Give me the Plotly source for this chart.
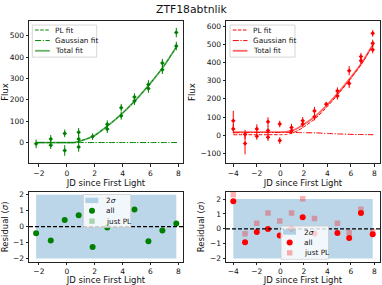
import plotly.graph_objects as go

# ---------------- data ----------------
# top-left (green) photometry
g_x = [-2.2, -1.15, -1.15, -0.15, -0.15, 0.85, 0.85, 0.85, 1.85, 2.9, 2.9, 3.9, 3.9,
       4.85, 4.85, 5.85, 5.85, 6.85, 6.85, 7.85, 7.85]
g_flux = [-6, 17, -12, 43, -37, 48, 17, -21, 28, 86, 63, 163, 125,
          213, 194, 272, 253, 372, 341, 515, 452]
g_err = [20, 18, 18, 18, 25, 20, 18, 22, 15, 18, 18, 18, 18,
         18, 18, 20, 20, 20, 20, 22, 20]
# green fits
g_fit_x = [-2.2, -1, 0, 0.5, 1, 1.5, 2, 3, 4, 5, 6, 7, 7.9]
g_total = [0, 0, 0, 0, 8, 19, 33, 82, 138, 203, 278, 362, 452]
g_pl = [0, 0, 0, 0, 8, 19, 33, 82, 138, 203, 278, 362, 452]
g_gauss = [0, 0, 0, 0, 0, 0, 0, 0, 0, 0, 0, 0, 0]

# top-right (red) photometry
r_x = [-4.0, -4.0, -3.0, -3.0, -2.0, -2.0, -1.05, -1.05, -1.05, -0.05, -0.05, 0.95, 0.95,
       1.9, 1.9, 2.9, 2.9, 3.9, 4.85, 4.85, 5.85, 5.85, 6.85, 6.85, 7.85, 7.85, 7.85]
r_flux = [80, 35, 5, -45, 35, -5, 74, 26, -11, 62, -29, 43, 25,
          80, 62, 134, 102, 171, 243, 216, 355, 285, 433, 410, 560, 505, 470]
r_err = [55, 25, 25, 60, 25, 20, 25, 25, 20, 18, 18, 20, 18,
         20, 20, 22, 20, 12, 20, 20, 25, 25, 20, 20, 18, 20, 20]
# red fits
r_fit_x = [-4.0, -3, -2, -1, 0, 0.5, 1, 1.5, 2, 3, 4, 5, 6, 7, 7.9]
r_total = [17, 17, 17, 17, 17, 18, 26, 40, 60, 106, 168, 240, 318, 405, 502]
r_pl = [3, 3, 3, 3, 3, 4, 12, 26, 46, 93, 158, 233, 313, 401, 499]
r_gauss = [14, 14, 15, 15, 15, 16, 15, 15, 14, 13, 10, 7, 5, 4, 3]

# residuals
gres_x = [-2.2, -1.15, -0.15, 0.85, 1.85, 2.9, 4.85, 5.85, 6.85, 7.85]
gres_all = [-0.42, -0.87, 0.42, 0.72, -1.28, -0.05, 1.08, -0.92, -0.24, 0.2]
rres_x = [-4.0, -3.0, -2.0, -1.05, -0.05, 0.95, 1.9, 2.9, 4.85, 5.85, 6.85, 7.85]
rres_all = [1.86, -0.9, -0.22, -0.02, -0.46, 0.0, 0.77, -0.31, -0.29, -0.62, 1.07, -0.36]
rres_pl = [2.3, -0.33, 0.37, 1.07, 0.53, 1.07, 2.02, 0.7, 0.37, -0.25, 1.32, -0.18]

title_text = "ZTF18abtnlik"
GREEN = "#008000"
RED = "#ff0000"
BAND = "rgba(31,119,180,0.3)"
FONT = "DejaVu Sans"

W, H = 382, 285
def px(x):
    return x / W
def py(y):
    return 1 - y / H

fig = go.Figure()

DASH = "3.5px,1.6px"
DASHDOT = "6px,1.6px,1.2px,1.6px"

def top_panel(xs, ys, es, fx, ft, fp, fg, color, xa, ya):
    fig.add_trace(go.Scatter(x=fx, y=ft, mode="lines", line=dict(color=color, width=1.8, shape="spline", smoothing=0.5),
                             opacity=0.6, xaxis=xa, yaxis=ya, showlegend=False))
    fig.add_trace(go.Scatter(x=fx, y=fp, mode="lines", line=dict(color=color, width=1, dash=DASH, shape="spline", smoothing=0.5),
                             xaxis=xa, yaxis=ya, showlegend=False))
    fig.add_trace(go.Scatter(x=fx, y=fg, mode="lines", line=dict(color=color, width=1, dash=DASHDOT, shape="spline", smoothing=0.5),
                             xaxis=xa, yaxis=ya, showlegend=False))
    fig.add_trace(go.Scatter(x=xs, y=ys, mode="markers",
                             marker=dict(color=color, size=3.5, symbol="diamond"),
                             error_y=dict(type="data", array=es, color=color, thickness=1, width=0),
                             xaxis=xa, yaxis=ya, showlegend=False))

top_panel(g_x, g_flux, g_err, g_fit_x, g_total, g_pl, g_gauss, GREEN, "x", "y")
top_panel(r_x, r_flux, r_err, r_fit_x, r_total, r_pl, r_gauss, RED, "x2", "y2")

def res_panel(xs, ya_all, ya_pl, color, light, xa, ya):
    x0, x1 = min(xs), max(xs)
    fig.add_trace(go.Scatter(x=[x0, x1, x1, x0, x0], y=[-2, -2, 2, 2, -2], fill="toself",
                             fillcolor=BAND, line=dict(width=0), mode="lines",
                             xaxis=xa, yaxis=ya, showlegend=False, hoverinfo="skip"))
    if ya_pl is not None:
        fig.add_trace(go.Scatter(x=xs, y=ya_pl, mode="markers",
                                 marker=dict(color=light, size=5.5, symbol="square", line=dict(width=0)),
                                 xaxis=xa, yaxis=ya, showlegend=False))
    fig.add_trace(go.Scatter(x=xs, y=ya_all, mode="markers",
                             marker=dict(color=color, size=6, symbol="circle", line=dict(width=0)),
                             xaxis=xa, yaxis=ya, showlegend=False))

res_panel(gres_x, gres_all, None, GREEN, "rgba(0,128,0,0.3)", "x3", "y3")
res_panel(rres_x, rres_all, rres_pl, RED, "rgba(255,0,0,0.3)", "x4", "y4")

# ---------------- axes ----------------
axcommon = dict(showline=True, mirror=True, linecolor="#222", linewidth=1, ticks="outside",
                ticklen=2.5, tickcolor="#222", tickwidth=0.8, showgrid=False, zeroline=False,
                tickfont=dict(family=FONT, size=7.5, color="#111"))
title_font = dict(family=FONT, size=8.5, color="#111")

xl = [px(29), px(183)]
xr = [px(226), px(380)]
yt = [py(163), py(19)]
yb = [py(262.5), py(192)]

fig.update_layout(
    xaxis=dict(domain=xl, range=[-2.71, 8.33], tickvals=[-2, 0, 2, 4, 6, 8], anchor="y",
               title=dict(text="JD since First Light", font=title_font, standoff=1), **axcommon),
    yaxis=dict(domain=yt, range=[-97, 570], tickvals=[0, 100, 200, 300, 400, 500], anchor="x",
               title=dict(text="Flux", font=title_font, standoff=3), **axcommon),
    xaxis2=dict(domain=xr, range=[-4.62, 8.47], tickvals=[-4, -2, 0, 2, 4, 6, 8], anchor="y2",
                title=dict(text="JD since First Light", font=title_font, standoff=1), **axcommon),
    yaxis2=dict(domain=yt, range=[-154, 629], tickvals=[-100, 0, 100, 200, 300, 400, 500, 600], anchor="x2",
                title=dict(text="Flux", font=title_font, standoff=3), **axcommon),
    xaxis3=dict(domain=xl, range=[-2.71, 8.33], tickvals=[-2, 0, 2, 4, 6, 8], anchor="y3",
                title=dict(text="JD since First Light", font=title_font, standoff=1), **axcommon),
    yaxis3=dict(domain=yb, range=[-2.2, 2.17], tickvals=[-2, -1, 0, 1, 2], anchor="x3",
                title=dict(text="Residual (<i>σ</i>)", font=title_font, standoff=3), **axcommon),
    xaxis4=dict(domain=xr, range=[-4.62, 8.47], tickvals=[-4, -2, 0, 2, 4, 6, 8], anchor="y4",
                title=dict(text="JD since First Light", font=title_font, standoff=1), **axcommon),
    yaxis4=dict(domain=yb, range=[-2.22, 2.48], tickvals=[-2, -1, 0, 1, 2], anchor="x4",
                title=dict(text="Residual (<i>σ</i>)", font=title_font, standoff=3), **axcommon),
)

shapes = []
annotations = []

# zero lines in residual panels
for xa, ya in (("x3", "y3"), ("x4", "y4")):
    shapes.append(dict(type="line", xref=xa + " domain", yref=ya, x0=0, x1=1, y0=0, y1=0,
                       line=dict(color="black", width=1.2, dash="4px,2px"), layer="above"))

def legend_box(x0, y0, x1, y1):
    shapes.append(dict(type="rect", xref="paper", yref="paper", x0=px(x0), x1=px(x1), y0=py(y1), y1=py(y0),
                       fillcolor="rgba(255,255,255,0.8)", line=dict(color="#cccccc", width=0.8), layer="above"))

def legend_text(x, y, text):
    annotations.append(dict(x=px(x), y=py(y), xref="paper", yref="paper", text=text, showarrow=False,
                            xanchor="left", yanchor="middle", font=dict(family=FONT, size=7.3, color="#111")))

def legend_line(x0, x1, y, color, width, dash, opacity=1.0):
    shapes.append(dict(type="line", xref="paper", yref="paper", x0=px(x0), x1=px(x1), y0=py(y), y1=py(y),
                       line=dict(color=color, width=width, dash=dash), opacity=opacity, layer="above"))

def fit_legend(bx0, bx1, color):
    legend_box(bx0, 23.3, bx1, 55.7)
    rows = [28.3, 39, 49.3]
    hx0, hx1 = bx0 + 2.8, bx0 + 17.5
    legend_line(hx0, hx1, rows[0], color, 1, DASH)
    legend_text(bx0 + 21.0, rows[0], "PL fit")
    legend_line(hx0, hx1, rows[1], color, 1, DASHDOT)
    legend_text(bx0 + 21.0, rows[1], "Gaussian fit")
    legend_line(hx0, hx1, rows[2], color, 1.8, "solid", 0.6)
    legend_text(bx0 + 21.0, rows[2], "Total fit")

fit_legend(32.3, 96.7, GREEN)
fit_legend(230, 295, RED)

def res_legend(bx0, by0, color, light):
    legend_box(bx0, by0, bx0 + 47.5, by0 + 33.5)
    rows = [by0 + 6, by0 + 16.5, by0 + 27]
    shapes.append(dict(type="rect", xref="paper", yref="paper", x0=px(bx0 + 2), x1=px(bx0 + 15),
                       y0=py(rows[0] + 2.7), y1=py(rows[0] - 2.7), fillcolor=BAND, line=dict(width=0), layer="above"))
    cx = bx0 + 8.7
    shapes.append(dict(type="circle", xref="paper", yref="paper", x0=px(cx - 3), x1=px(cx + 3),
                       y0=py(rows[1] + 3), y1=py(rows[1] - 3), fillcolor=color, line=dict(width=0), layer="above"))
    shapes.append(dict(type="rect", xref="paper", yref="paper", x0=px(cx - 2.7), x1=px(cx + 2.7),
                       y0=py(rows[2] + 2.7), y1=py(rows[2] - 2.7), fillcolor=light, line=dict(width=0), layer="above"))
    legend_text(bx0 + 21.0, rows[0], "2<i>σ</i>")
    legend_text(bx0 + 21.0, rows[1], "all")
    legend_text(bx0 + 21.0, rows[2], "just PL")

res_legend(83.3, 194.5, GREEN, "rgba(0,128,0,0.3)")
res_legend(281, 226.5, RED, "rgba(255,0,0,0.3)")

annotations.append(dict(x=0.5, y=py(8), xref="paper", yref="paper", text=title_text, showarrow=False,
                        xanchor="center", yanchor="middle", font=dict(family=FONT, size=10.8, color="#111")))

fig.update_layout(
    width=W, height=H, margin=dict(l=0, r=0, t=0, b=0),
    paper_bgcolor="white", plot_bgcolor="white",
    showlegend=False, shapes=shapes, annotations=annotations,
    font=dict(family=FONT, size=7.5, color="#111"),
)

fig.write_html("out.html", config={"displayModeBar": False},
               post_script="document.body.style.margin='0px';document.body.style.overflow='hidden';")
